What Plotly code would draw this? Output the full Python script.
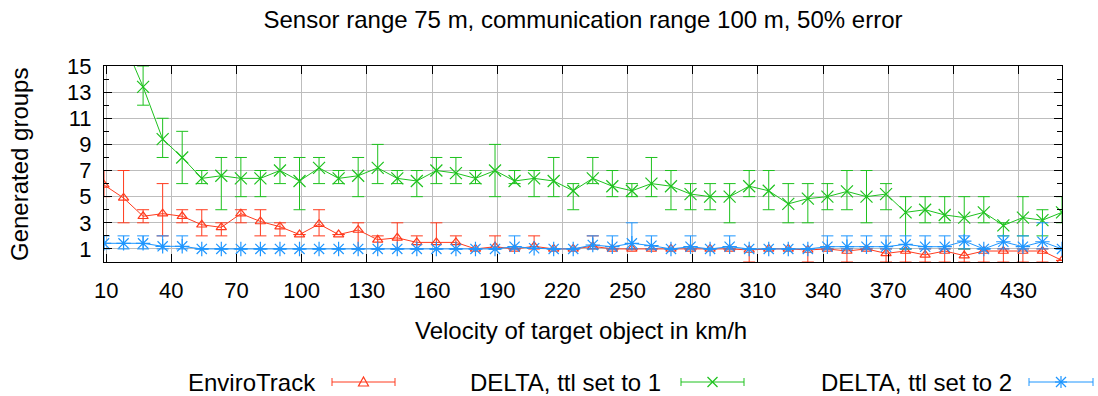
import plotly.graph_objects as go

# ---------------- data ----------------
velocity = [9 * k for k in range(1, 51)]

enviro_mean = [5.9, 4.9, 3.5, 3.7, 3.5, 2.85, 2.65, 3.7, 3.1, 2.7,
               2.1, 2.9, 2.1, 2.45, 1.7, 1.85, 1.5, 1.5, 1.5, 1.0,
               1.17, 1.0, 1.2, 1.0, 1.0, 1.2, 1.0, 1.0, 1.0, 1.0,
               1.0, 1.0, 1.0, 0.92, 1.0, 1.0, 0.92, 1.0, 0.84, 1.0,
               0.66, 0.84, 0.54, 0.84, 0.49, 0.84, 0.84, 0.84, 0.84, 0.12]
enviro_low = [5, 3, 3, 2, 3, 2, 2, 3, 2, 2,
              2.1, 2, 2.1, 1, 1, 1, 1, 1, 1, 1,
              1, 1, 1, 1, 1, 1, 1, 1, 1, 1,
              1, 1, 1, 0, 1, 1, 0, 1, 0, 1,
              0, 0, 0, 0, 0, 0, 0, 0, 0, 0.12]
enviro_high = [7, 7, 4, 6, 4, 4, 3, 4, 4, 3,
               2.1, 4, 2.1, 3, 2, 3, 2, 3, 2, 1,
               2, 1, 2, 1, 1, 2, 1, 1, 1, 1,
               1, 1, 1, 1, 1, 1, 1, 1, 1, 1,
               1, 1, 1, 1, 1, 1, 1, 1, 1, 0.12]

delta1_mean = [19.5, 16.9, 13.4, 9.4, 8.0, 6.4, 6.6, 6.4, 6.4, 7.0,
               6.2, 7.2, 6.4, 6.6, 7.2, 6.4, 6.2, 7.0, 6.8, 6.4,
               7.0, 6.2, 6.4, 6.2, 5.45, 6.4, 5.8, 5.45, 6.0, 5.8,
               5.2, 5.0, 5.0, 5.8, 5.45, 4.45, 4.85, 5.0, 5.4, 5.0,
               5.2, 3.8, 4.0, 3.6, 3.4, 3.8, 2.8, 3.4, 3.2, 3.8]
delta1_low = [19.5, 16.9, 12, 8, 6, 6, 4, 5, 5, 6,
              4, 6, 6, 5, 6, 6, 5, 6, 6, 6,
              5, 6, 5, 5, 4, 6, 5, 5, 5, 4,
              4, 4, 3, 5, 4, 3, 3, 4, 4, 3,
              4, 1, 3, 3, 1, 3, 2, 2, 2, 3]
delta1_high = [19.5, 16.9, 15, 11, 10, 7, 8, 8, 7, 8,
               8, 8, 7, 8, 9, 7, 7, 8, 8, 7,
               9, 7, 7, 8, 6, 8, 7, 6, 8, 7,
               6, 6, 6, 7, 7, 6, 6, 6, 7, 7,
               6, 5, 5, 5, 5, 5, 3, 5, 4, 5]

delta2_mean = [1.43, 1.43, 1.43, 1.2, 1.2, 1.0, 1.0, 1.0, 1.0, 1.0,
               1.0, 1.0, 1.0, 1.0, 1.0, 1.0, 1.0, 1.0, 1.0, 1.0,
               1.0, 1.17, 1.05, 1.0, 1.0, 1.3, 1.17, 1.43, 1.25, 1.0,
               1.17, 1.0, 1.17, 1.0, 1.0, 1.0, 1.0, 1.17, 1.17, 1.17,
               1.17, 1.35, 1.17, 1.17, 1.6, 1.0, 1.55, 1.17, 1.55, 1.0]
delta2_low = [1, 1, 1, 1, 1, 1, 1, 1, 1, 1,
              1, 1, 1, 1, 1, 1, 1, 1, 1, 1,
              1, 1, 1.05, 1, 1, 1, 1, 1, 1, 1,
              1, 1, 1, 1, 1, 1, 1, 1, 1, 1,
              1, 1, 1, 1, 1, 1, 1, 1, 1, 1]
delta2_high = [2, 2, 2, 2, 2, 1, 1, 1, 1, 1,
               1, 1, 1, 1, 1, 1, 1, 1, 1, 1,
               1, 2, 1.05, 1, 1, 2, 2, 3, 2, 1,
               2, 1, 2, 1, 1, 1, 1, 2, 2, 2,
               2, 2, 2, 2, 2, 1, 2, 2, 3, 1]

x_ticks = [10, 40, 70, 100, 130, 160, 190, 220, 250, 280, 310, 340, 370, 400, 430]
y_ticks = [1, 3, 5, 7, 9, 11, 13, 15]

series_names = ["EnviroTrack", "DELTA, ttl set to 1", "DELTA, ttl set to 2"]

# ---------------- style ----------------
RED = "#ff3b1e"
GREEN = "#1ec21e"
BLUE = "#1e96ff"
FONT = "Liberation Sans, Arial, Helvetica, sans-serif"
TXT = 24
TICK = 22

W, H = 1098, 396
L, R, T, B = 104, 1062, 66, 262


def xp(px):
    return (px - L) / (R - L)


def yp(py):
    return (B - py) / (B - T)


def err(mean, low, high):
    plus = [max(h - m, 0) for m, h in zip(mean, high)]
    minus = [max(m - lo, 0) for m, lo in zip(mean, low)]
    return plus, minus


fig = go.Figure()

specs = [
    (series_names[0], enviro_mean, enviro_low, enviro_high, RED, "triangle-up-open", 9),
    (series_names[1], delta1_mean, delta1_low, delta1_high, GREEN, "x-thin-open", 12),
    (series_names[2], delta2_mean, delta2_low, delta2_high, BLUE, "asterisk-open", 12),
]

for name, m, lo, hi, col, sym, size in specs:
    plus, minus = err(m, lo, hi)
    fig.add_trace(go.Scatter(
        x=velocity, y=m, name=name, mode="lines+markers",
        line=dict(color=col, width=1),
        marker=dict(symbol=sym, size=size, color=col, line=dict(color=col, width=1.2)),
        error_y=dict(type="data", symmetric=False, array=plus, arrayminus=minus,
                     color=col, thickness=1, width=6),
        showlegend=False,
    ))

fig.update_xaxes(
    range=[9, 450], tickmode="array", tickvals=x_ticks,
    ticks="inside", ticklen=8, tickcolor="black", mirror="allticks",
    showline=True, linecolor="black", linewidth=1.2,
    showgrid=True, gridcolor="#bdbdbd", gridwidth=1, zeroline=False,
    tickfont=dict(family=FONT, size=TICK, color="black"),
    ticklabelstandoff=8,
)
fig.update_yaxes(
    range=[0, 15], tickmode="array", tickvals=y_ticks,
    ticks="inside", ticklen=8, tickcolor="black", mirror="allticks",
    showline=True, linecolor="black", linewidth=1.2,
    showgrid=True, gridcolor="#bdbdbd", gridwidth=1, zeroline=False,
    tickfont=dict(family=FONT, size=TICK, color="black"),
    ticklabelstandoff=7,
    minor=dict(ticks="inside", ticklen=5, tickcolor="black", dtick=1, tick0=0, showgrid=False),
)

annotations = [
    dict(text="Velocity of target object in km/h", xref="paper", yref="paper",
         x=xp(581), y=yp(330), xanchor="center", yanchor="middle", showarrow=False,
         font=dict(family=FONT, size=TXT, color="black")),
    dict(text="Generated groups", xref="paper", yref="paper", textangle=-90,
         x=xp(19), y=yp(165), xanchor="center", yanchor="middle", showarrow=False,
         font=dict(family=FONT, size=TXT, color="black")),
]

shapes = []
legend_pos = [  # (text right edge, sample left, sample right)
    (318, 332, 395),
    (663, 681, 744),
    (1014, 1029, 1093),
]
LY = 382
for (tx, s0, s1), (name, _, _, _, col, sym, _) in zip(legend_pos, specs):
    annotations.append(dict(text=name, xref="paper", yref="paper", x=xp(tx), y=yp(LY),
                            xanchor="right", yanchor="middle", showarrow=False,
                            font=dict(family=FONT, size=TXT, color="black")))
    shapes.append(dict(type="line", xref="paper", yref="paper", x0=xp(s0), x1=xp(s1),
                       y0=yp(LY), y1=yp(LY), line=dict(color=col, width=1)))
    for sx in (s0, s1):
        shapes.append(dict(type="line", xref="paper", yref="paper", x0=xp(sx), x1=xp(sx),
                           y0=yp(LY - 4), y1=yp(LY + 4), line=dict(color=col, width=1)))
    cx = (s0 + s1) / 2
    if sym.startswith("triangle"):
        path = "M {:.5f},{:.5f} L {:.5f},{:.5f} L {:.5f},{:.5f} Z".format(
            xp(cx - 5), yp(LY + 4), xp(cx + 5), yp(LY + 4), xp(cx), yp(LY - 5))
        shapes.append(dict(type="path", xref="paper", yref="paper", path=path,
                           line=dict(color=col, width=1.2)))
    else:
        segs = [((-5, -5), (5, 5)), ((-5, 5), (5, -5))]
        if sym.startswith("asterisk"):
            segs += [((0, -6), (0, 6)), ((-6, 0), (6, 0))]
        for (a, b), (c, d) in segs:
            shapes.append(dict(type="line", xref="paper", yref="paper",
                               x0=xp(cx + a), y0=yp(LY + b), x1=xp(cx + c), y1=yp(LY + d),
                               line=dict(color=col, width=1.2)))

fig.update_layout(
    width=W, height=H,
    margin=dict(l=L, r=W - R, t=T, b=H - B, pad=0),
    paper_bgcolor="white", plot_bgcolor="white",
    title=dict(text="Sensor range 75 m, communication range 100 m, 50% error",
               x=0.5, xref="paper", y=1 - 20 / H, yref="container",
               xanchor="center", yanchor="middle",
               font=dict(family=FONT, size=TXT, color="black")),
    annotations=annotations, shapes=shapes,
    font=dict(family=FONT, color="black"),
)

fig.write_html("out.html")
